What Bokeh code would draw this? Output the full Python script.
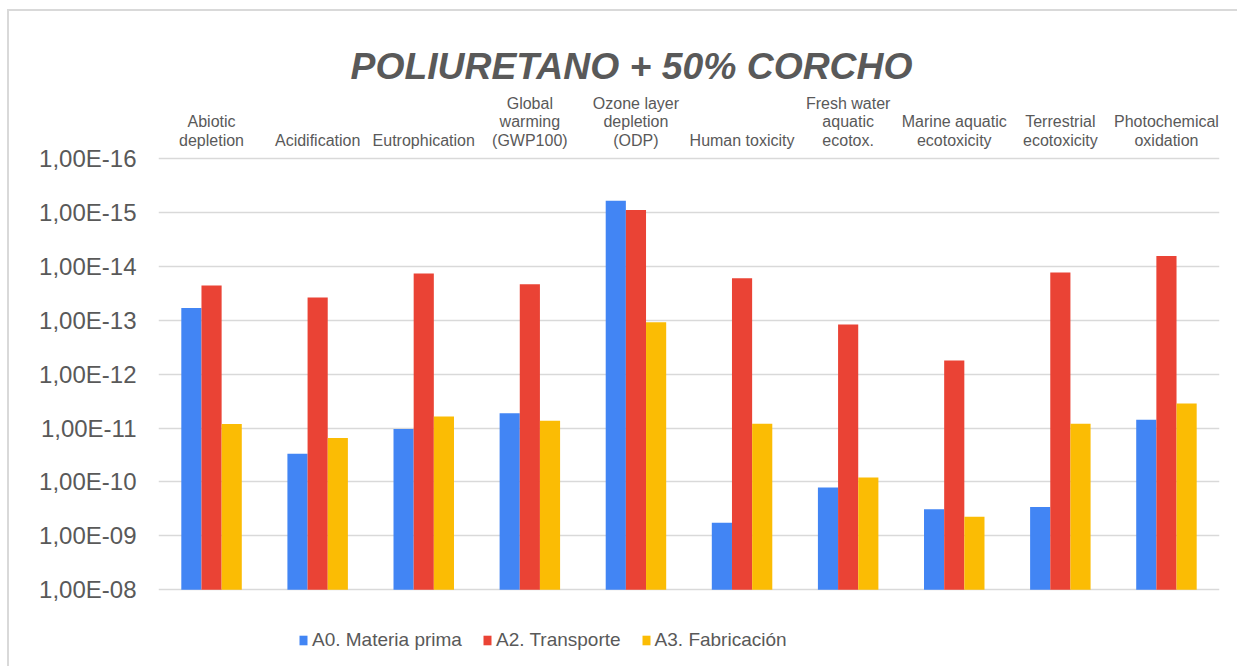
from bokeh.plotting import figure
from bokeh.models import (ColumnDataSource, FactorRange, Range1d, FixedTicker,
                          CustomJSTickFormatter, Legend, LegendItem, LabelSet, Label)
from bokeh.core.properties import value
from bokeh.transform import dodge
from bokeh.embed import file_html
from bokeh.resources import INLINE

categories = ["Abiotic depletion", "Acidification", "Eutrophication",
              "Global warming (GWP100)", "Ozone layer depletion (ODP)",
              "Human toxicity", "Fresh water aquatic ecotox.",
              "Marine aquatic ecotoxicity", "Terrestrial ecotoxicity",
              "Photochemical oxidation"]
category_labels = ["Abiotic\ndepletion", "Acidification", "Eutrophication",
                   "Global\nwarming\n(GWP100)", "Ozone layer\ndepletion\n(ODP)",
                   "Human toxicity", "Fresh water\naquatic\necotox.",
                   "Marine aquatic\necotoxicity", "Terrestrial\necotoxicity",
                   "Photochemical\noxidation"]
a0_materia_prima = [5.9e-14, 3.0e-11, 1.04e-11, 5.3e-12, 6.1e-16,
                    5.7e-10, 1.27e-10, 3.2e-10, 2.9e-10, 7.0e-12]
a2_transporte = [2.27e-14, 3.8e-14, 1.36e-14, 2.15e-14, 9.0e-16,
                 1.66e-14, 1.2e-13, 5.6e-13, 1.3e-14, 6.4e-15]
a3_fabricacion = [8.4e-12, 1.53e-11, 6.1e-12, 7.3e-12, 1.09e-13,
                  8.3e-12, 8.3e-11, 4.4e-10, 8.3e-12, 3.5e-12]
series_names = ["A0. Materia prima", "A2. Transporte", "A3. Fabricación"]
y_ticks = [1e-16, 1e-15, 1e-14, 1e-13, 1e-12, 1e-11, 1e-10, 1e-9, 1e-8]
baseline = 1e-8
title_text = "POLIURETANO + 50% CORCHO"

colors = ["#4285F4", "#EA4335", "#FBBC04"]
FONT = "Liberation Sans"
GREY = "#595959"

# layout (page pixels): canvas starts at y=11; plotted decades 1e-16 (y=158) .. 1e-8 (y=589.3)
DEC = 53.9
CANVAS_TOP = 11
FIG_H = 657
PAGE_BOTTOM = CANVAS_TOP + FIG_H
y_end = 10 ** (-16 - (158 - CANVAS_TOP) / DEC)
y_start = 10 ** (-8 + (PAGE_BOTTOM - 589.3) / DEC)


def sy(page_y):
    return PAGE_BOTTOM - page_y


src = ColumnDataSource(dict(cat=categories, a0=a0_materia_prima,
                            a2=a2_transporte, a3=a3_fabricacion,
                            base=[baseline] * len(categories)))

p = figure(width=1230, height=FIG_H, x_range=FactorRange(*categories),
           y_range=Range1d(start=y_start, end=y_end), y_axis_type="log",
           x_axis_location=None, output_backend="svg",
           toolbar_location=None, min_border_left=149, min_border_right=20,
           min_border_top=0, min_border_bottom=0)
p.styles = {"margin-left": "7px", "margin-top": "9px",
            "border-top": "2px solid #d9d9d9", "border-left": "2px solid #d9d9d9"}
p.outline_line_color = None

renderers = []
for i, (col, off) in enumerate(zip(["a0", "a2", "a3"], [-0.19, 0.0, 0.19])):
    r = p.vbar(x=dodge("cat", off, range=p.x_range), top=col, bottom="base",
               width=0.19, source=src, fill_color=colors[i], line_color=None)
    renderers.append(r)

# category labels, one row per text line, bottom aligned
lx, ly, lt = [], [], []
for c, lab in zip(categories, category_labels):
    lines = lab.split("\n")
    n = len(lines)
    for k, t in enumerate(lines):
        lx.append(c)
        ly.append(sy(145.5 - (n - 1 - k) * 18.6))
        lt.append(t)
lab_src = ColumnDataSource(dict(x=lx, y=ly, t=lt))
p.add_layout(LabelSet(x="x", y="y", text="t", source=lab_src, y_units="screen",
                      text_align="center", text_baseline="alphabetic",
                      text_font=value(FONT), text_font_size=value("16px"),
                      text_color=GREY))

p.add_layout(Label(x=631 - 158, y=sy(65), x_units="screen", y_units="screen",
                   text=title_text, text_align="center", text_baseline="alphabetic",
                   text_font=FONT, text_font_size="37.3px",
                   text_font_style="bold italic", text_color=GREY))

ya = p.yaxis[0]
ya.ticker = FixedTicker(ticks=y_ticks)
ya.formatter = CustomJSTickFormatter(code="""
const e = Math.round(Math.log10(tick));
const m = tick / Math.pow(10, e);
const a = Math.abs(e);
return m.toFixed(2).replace('.', ',') + 'E' + (e < 0 ? '-' : '+') + (a < 10 ? '0' + a : '' + a);
""")
ya.major_label_text_font = FONT
ya.major_label_text_font_size = "24px"
ya.major_label_text_color = GREY
ya.major_label_standoff = 16
ya.axis_line_color = None
ya.major_tick_line_color = None
ya.minor_tick_line_color = None

p.xgrid.grid_line_color = None
p.ygrid.ticker = FixedTicker(ticks=y_ticks)
p.ygrid.grid_line_color = "#d9d9d9"
p.ygrid.grid_line_width = 1.3

legend = Legend(items=[LegendItem(label=n, renderers=[r]) for n, r in zip(series_names, renderers)],
                orientation="horizontal", location=(140, sy(651)),
                label_text_font=FONT, label_text_font_size="19px",
                label_text_color=GREY, glyph_width=10, glyph_height=12,
                label_standoff=4, spacing=20, border_line_color=None,
                background_fill_alpha=0, padding=8, margin=0)
p.add_layout(legend, "center")

open("out.html", "w").write(file_html(p, INLINE))
